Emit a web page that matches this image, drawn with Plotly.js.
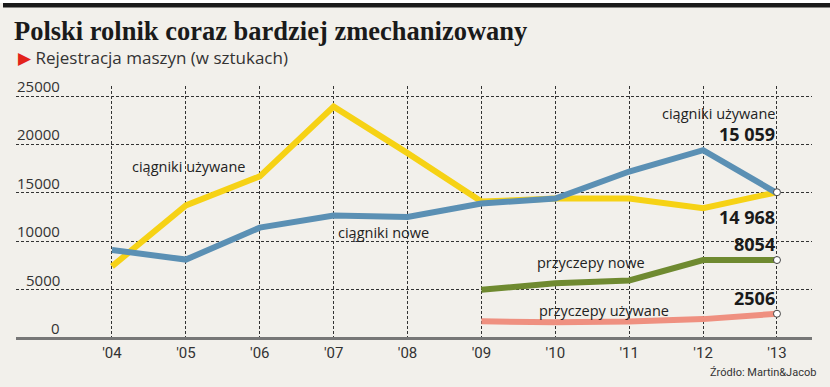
<!DOCTYPE html>
<html>
<head>
<meta charset="utf-8">
<script src="https://cdn.plot.ly/plotly-3.0.1.min.js"></script>
<style>html,body{margin:0;padding:0;background:#f2f0eb;}#chart{width:830px;height:387px;}</style>
</head>
<body>
<div id="chart"></div>
<script>
const years = [2004, 2005, 2006, 2007, 2008, 2009, 2010, 2011, 2012, 2013];
const yearLabels = ["'04", "'05", "'06", "'07", "'08", "'09", "'10", "'11", "'12", "'13"];
const ciagnikiUzywane = [7400, 13700, 16700, 23900, 19100, 14100, 14400, 14400, 13400, 15059];
const ciagnikiNowe = [9100, 8100, 11400, 12650, 12500, 13900, 14400, 17200, 19400, 14968];
const trailerYears = [2009, 2010, 2011, 2012, 2013];
const przyczepyNowe = [4980, 5650, 5950, 8050, 8054];
const przyczepyUzywane = [1720, 1620, 1700, 1950, 2506];
const yTicks = [0, 5000, 10000, 15000, 20000, 25000];
const yTickLabels = ["0", "5000", "10000", "15000", "20000", "25000"];

const colors = {uz: '#f6d215', nowe: '#5b90b4', pn: '#6f8a30', pu: '#ef9080'};
const textFont = '"Open Sans", "DejaVu Sans", sans-serif';
const condFont = '"Liberation Sans Narrow", "Roboto", sans-serif';

function series(x, y, color) {
  return {x: x, y: y, type: 'scatter', mode: 'lines', line: {color: color, width: 6}, hoverinfo: 'skip', showlegend: false};
}
function endMarker(x, y) {
  return {x: [x[x.length-1]], y: [y[y.length-1]], type: 'scatter', mode: 'markers',
    marker: {size: 7, color: '#ffffff', line: {color: '#444', width: 1}}, hoverinfo: 'skip', showlegend: false};
}

const data = [
  series(years, ciagnikiUzywane, colors.uz),
  series(years, ciagnikiNowe, colors.nowe),
  series(trailerYears, przyczepyNowe, colors.pn),
  series(trailerYears, przyczepyUzywane, colors.pu),
  endMarker(years, ciagnikiUzywane),
  endMarker(trailerYears, przyczepyNowe),
  endMarker(trailerYears, przyczepyUzywane)
];

const W = 830, L = 16, R = 18, T = 86, B = 49;
const pw = W - L - R, ph = 387 - T - B;
const px = v => (v - L) / pw;
const py = v => (387 - B - v) / ph;

const annotations = [];
yTicks.forEach((v, i) => annotations.push({
  x: px(62), xref: 'paper', xanchor: 'right', y: v, yref: 'y', yanchor: 'bottom', yshift: -2,
  text: yTickLabels[i], showarrow: false, font: {family: textFont, size: 15, color: '#333'}
}));
const lab = (x, y, text, opts) => Object.assign({x: x, y: y, xref: 'x', yref: 'y', text: text, showarrow: false,
  font: {family: textFont, size: 14.5, color: '#222'}}, opts || {});
annotations.push(lab(2005.03, 17700, 'ciągniki używane'));
annotations.push(lab(2007.67, 10850, 'ciągniki nowe'));
annotations.push(lab(2010.48, 7750, 'przyczepy nowe'));
annotations.push(lab(2010.66, 2890, 'przyczepy używane'));
annotations.push(lab(2013, 23150, 'ciągniki używane', {xanchor: 'right', yanchor: 'middle'}));
const bold = {family: textFont, size: 18, color: '#1a1a1a', weight: 700};
annotations.push(lab(2013, 21050, '<b>15 059</b>', {xanchor: 'right', font: bold}));
annotations.push(lab(2013, 12500, '<b>14 968</b>', {xanchor: 'right', font: bold}));
annotations.push(lab(2013, 9710, '<b>8054</b>', {xanchor: 'right', font: bold}));
annotations.push(lab(2013, 4130, '<b>2506</b>', {xanchor: 'right', font: bold}));
annotations.push({x: px(16), xref: 'paper', xanchor: 'left', y: py(58), yref: 'paper', yanchor: 'middle',
  text: '<span style="color:#e3231b">▶</span> Rejestracja maszyn (w sztukach)', showarrow: false,
  font: {family: textFont, size: 17, color: '#333'}});
annotations.push({x: px(818), xref: 'paper', xanchor: 'right', y: py(372), yref: 'paper', yanchor: 'middle',
  text: 'Źródło: Martin&Jacob', showarrow: false, font: {family: condFont, size: 11, color: '#333'}});

const layout = {
  width: W, height: 387,
  margin: {l: L, r: R, t: T, b: B, pad: 0},
  paper_bgcolor: '#f2f0eb', plot_bgcolor: '#f2f0eb',
  title: {text: '<b>Polski rolnik coraz bardziej zmechanizowany</b>', x: 14 / W, xanchor: 'left', xref: 'container',
    y: 1 - 31 / 387, yanchor: 'middle', yref: 'container',
    font: {family: '"Liberation Serif", "DejaVu Serif", serif', size: 26.5, color: '#1a1a1a'}},
  xaxis: {range: [2002.701, 2013.474], tickvals: years, ticktext: yearLabels, showgrid: true,
    gridcolor: '#333', gridwidth: 1, griddash: '3px,2px', zeroline: false,
    showline: true, linecolor: '#777', linewidth: 2, ticks: '', ticklen: 0,
    tickfont: {family: condFont, size: 15, color: '#333'}, fixedrange: true},
  yaxis: {range: [0, 26033], tickvals: yTicks, showticklabels: false, showgrid: true,
    gridcolor: '#333', gridwidth: 1, griddash: '3px,2px', zeroline: false, fixedrange: true},
  shapes: [
    {type: 'rect', xref: 'paper', yref: 'paper', x0: px(0), x1: px(830), y0: py(3), y1: py(0), fillcolor: '#ffffff', line: {width: 0}, layer: 'below'},
    {type: 'rect', xref: 'paper', yref: 'paper', x0: px(3), x1: px(830), y0: py(7.5), y1: py(3), fillcolor: '#1a1a1a', line: {width: 0}},
    {type: 'line', xref: 'paper', yref: 'y', x0: 0, x1: 1, y0: 0, y1: 0, line: {color: '#777', width: 2}}
  ],
  annotations: annotations,
  showlegend: false
};

Plotly.newPlot('chart', data, layout, {displayModeBar: false, staticPlot: true});
</script>
</body>
</html>
